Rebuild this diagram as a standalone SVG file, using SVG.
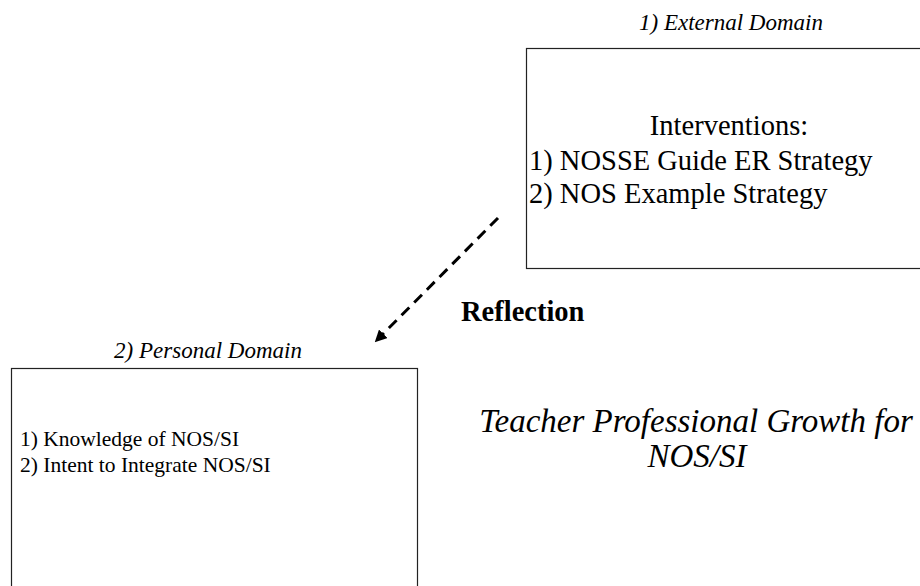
<svg xmlns="http://www.w3.org/2000/svg" width="920" height="586" viewBox="0 0 920 586">
  <style>
    text { font-family: "Liberation Serif", "Times New Roman", serif; fill: #000; }
    .box { fill: #fff; stroke: #222; stroke-width: 1.2; }
    .cap { font-size: 23px; font-style: italic; }
    .big { font-size: 28.5px; }
    .small { font-size: 21.5px; }
    .title { font-size: 33px; font-style: italic; }
    .link { fill: none; stroke: #000; stroke-width: 3; stroke-dasharray: 11 7; }
  </style>
  <defs>
    <marker id="head" viewBox="0 0 10 10" refX="5" refY="5" markerWidth="4" markerHeight="4" orient="auto" markerUnits="strokeWidth">
      <path d="M0,0 L10,5 L0,10 Z" fill="#000"/>
    </marker>
  </defs>
  <rect width="920" height="586" fill="#fff"/>

  <g id="external-domain">
    <text class="cap" x="731" y="30" text-anchor="middle">1) External Domain</text>
    <rect class="box" x="526.5" y="48.5" width="400" height="220"/>
    <text class="big" x="729" y="135" text-anchor="middle">Interventions:</text>
    <text class="big" x="529" y="170">1) NOSSE Guide ER Strategy</text>
    <text class="big" x="529" y="203">2) NOS Example Strategy</text>
  </g>

  <g id="personal-domain">
    <text class="cap" x="208" y="358" text-anchor="middle">2) Personal Domain</text>
    <rect class="box" x="11.5" y="368.5" width="406" height="230"/>
    <text class="small" x="20" y="446">1) Knowledge of NOS/SI</text>
    <text class="small" x="20" y="472">2) Intent to Integrate NOS/SI</text>
  </g>

  <g id="growth-label">
    <text class="title" x="696" y="432" text-anchor="middle">Teacher Professional Growth for</text>
    <text class="title" x="697" y="467" text-anchor="middle">NOS/SI</text>
  </g>

  <g id="connectors">
    <path class="link" d="M498,218 L379,338" marker-end="url(#head)"/>
    <text class="big" x="461" y="321" font-weight="bold">Reflection</text>
  </g>
</svg>
